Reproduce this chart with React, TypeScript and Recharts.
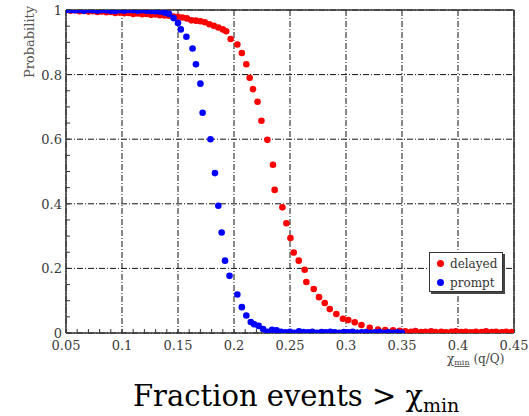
import React from 'react';
import { ScatterChart, Scatter, XAxis, YAxis, CartesianGrid } from 'recharts';

const promptX = [
  0.050, 0.054, 0.058, 0.062, 0.066, 0.070, 0.074, 0.078, 0.082, 0.086, 0.090, 0.094, 0.098,
  0.102, 0.106, 0.110, 0.114, 0.118, 0.122, 0.126, 0.130, 0.134, 0.138, 0.142, 0.146,
  0.150, 0.1525, 0.1575, 0.163, 0.166, 0.170, 0.172, 0.179, 0.183, 0.186, 0.189, 0.192, 0.196,
  0.203, 0.207, 0.211, 0.215, 0.218, 0.222, 0.226, 0.230,
  0.234, 0.238, 0.242, 0.246, 0.250, 0.254, 0.258, 0.262, 0.266, 0.270, 0.274, 0.278, 0.282,
  0.286, 0.290, 0.294, 0.298, 0.302, 0.306, 0.310, 0.314, 0.318, 0.322, 0.326, 0.330, 0.334,
  0.338, 0.342, 0.346, 0.350,
];
const promptY = [
  1.0, 1.0, 0.999, 1.0, 0.998, 1.0, 0.999, 0.998, 1.0, 0.999, 0.998, 0.997, 0.999,
  0.998, 1.0, 0.999, 0.998, 0.999, 0.998, 0.997, 0.996, 0.995, 0.992, 0.988, 0.975,
  0.960, 0.940, 0.917, 0.881, 0.832, 0.772, 0.682, 0.600, 0.495, 0.394, 0.311, 0.224, 0.177,
  0.119, 0.080, 0.054, 0.034, 0.027, 0.022, 0.012, 0.004,
  0.010, 0.008, 0.004, 0.002, 0.004, 0.001, 0.005, 0.003, 0.002, 0.004, 0.001, 0.003, 0.002,
  0.004, 0.002, 0.001, 0.003, 0.002, 0.004, 0.001, 0.002, 0.003, 0.001, 0.002, 0.003, 0.001,
  0.002, 0.001, 0.002, 0.001,
];

const delayedX = [
  0.050, 0.054, 0.058, 0.062, 0.066, 0.070, 0.074, 0.078, 0.082, 0.086, 0.090, 0.094, 0.098,
  0.102, 0.106, 0.110, 0.114, 0.118, 0.122, 0.126, 0.130, 0.134, 0.138, 0.142, 0.146,
  0.150, 0.154, 0.158, 0.162, 0.166, 0.170, 0.174, 0.178, 0.182, 0.186, 0.190, 0.193, 0.197,
  0.203, 0.207, 0.211, 0.214, 0.217, 0.221, 0.2245, 0.2298, 0.2348, 0.2363, 0.2432, 0.2468,
  0.2504, 0.2533, 0.2578, 0.2631, 0.2646, 0.2712, 0.2759, 0.281, 0.2855, 0.2914, 0.2973,
  0.302, 0.3078, 0.3138, 0.3212, 0.3286, 0.335, 0.342, 0.348,
  0.353, 0.358, 0.362, 0.367, 0.371, 0.376, 0.380, 0.385, 0.389, 0.394, 0.398, 0.403,
  0.407, 0.412, 0.416, 0.421, 0.425, 0.430, 0.434, 0.439, 0.443, 0.448,
];
const delayedY = [
  1.000, 0.998, 0.999, 0.996, 0.997, 0.995, 0.996, 0.994, 0.995, 0.993, 0.994, 0.991, 0.992,
  0.990, 0.991, 0.988, 0.989, 0.987, 0.988, 0.985, 0.986, 0.984, 0.983, 0.982, 0.980,
  0.979, 0.977, 0.974, 0.968, 0.967, 0.965, 0.962, 0.956, 0.951, 0.946, 0.940, 0.934, 0.910,
  0.893, 0.867, 0.832, 0.790, 0.755, 0.716, 0.657, 0.598, 0.521, 0.443, 0.389, 0.340,
  0.294, 0.249, 0.224, 0.196, 0.158, 0.136, 0.111, 0.093, 0.074, 0.059, 0.044,
  0.040, 0.033, 0.025, 0.016, 0.011, 0.009, 0.008, 0.007,
  0.005, 0.004, 0.006, 0.003, 0.004, 0.005, 0.003, 0.004, 0.002, 0.004, 0.005, 0.003,
  0.004, 0.002, 0.004, 0.003, 0.005, 0.003, 0.004, 0.002, 0.004, 0.003,
];

const xMajorTicks = [0.05, 0.1, 0.15, 0.2, 0.25, 0.3, 0.35, 0.4, 0.45];
const xMinorTicks = [
  0.05, 0.06, 0.07, 0.08, 0.09, 0.1, 0.11, 0.12, 0.13, 0.14, 0.15, 0.16, 0.17, 0.18, 0.19, 0.2,
  0.21, 0.22, 0.23, 0.24, 0.25, 0.26, 0.27, 0.28, 0.29, 0.3, 0.31, 0.32, 0.33, 0.34, 0.35,
  0.36, 0.37, 0.38, 0.39, 0.4, 0.41, 0.42, 0.43, 0.44, 0.45,
];
const yMajorTicks = [0, 0.2, 0.4, 0.6, 0.8, 1];
const yMinorTicks = [
  0, 0.05, 0.1, 0.15, 0.2, 0.25, 0.3, 0.35, 0.4, 0.45, 0.5, 0.55, 0.6, 0.65, 0.7, 0.75, 0.8,
  0.85, 0.9, 0.95, 1,
];
const xLabels = ['0.05', '0.1', '0.15', '0.2', '0.25', '0.3', '0.35', '0.4', '0.45'];
const yLabels = ['0', '0.2', '0.4', '0.6', '0.8', '1'];

const series = [
  { name: 'delayed', color: '#ff0000', xs: delayedX, ys: delayedY },
  { name: 'prompt', color: '#0000ff', xs: promptX, ys: promptY },
];

const SERIF = "'DejaVu Serif', serif";
const TICK_COLOR = '#3a3a3a';

const findLabel = (v: number, ticks: number[], labels: string[]) => {
  const i = ticks.findIndex((t) => Math.abs(t - v) < 1e-9);
  return i >= 0 ? labels[i] : null;
};

const XTick = (props: any) => {
  const { x, y, payload } = props;
  const label = findLabel(payload.value, xMajorTicks, xLabels);
  if (!label) return <g />;
  return (
    <text x={x} y={y + 9} textAnchor="middle" style={{ fontFamily: SERIF }} fontSize={13} fill={TICK_COLOR}>
      {label}
    </text>
  );
};

const YTick = (props: any) => {
  const { x, y, payload } = props;
  const label = findLabel(payload.value, yMajorTicks, yLabels);
  if (!label) return <g />;
  return (
    <text x={x} y={y + 5} textAnchor="end" style={{ fontFamily: SERIF }} fontSize={13} fill={TICK_COLOR}>
      {label}
    </text>
  );
};

const Dot = (props: any) => {
  const { cx, cy, fill } = props;
  return <circle cx={cx} cy={cy} r={3.3} fill={fill} />;
};

export default function App() {
  const data = series.map((s) => ({
    ...s,
    points: s.xs.map((x, i) => ({ x, y: s.ys[i] })),
  }));
  return (
    <div style={{ position: 'absolute', left: 0, top: 0, width: 529, height: 416, background: '#fff', fontFamily: SERIF }}>
      <ScatterChart width={529} height={416} margin={{ top: 9, right: 14, bottom: 53, left: 26 }}>
        <CartesianGrid
          verticalValues={xMajorTicks}
          horizontalValues={yMajorTicks}
          stroke="#111"
          strokeWidth={1}
          strokeDasharray="6 2 1 2"
        />
        <XAxis
          type="number"
          dataKey="x"
          domain={[0.05, 0.45]}
          ticks={xMinorTicks}
          interval={0}
          allowDataOverflow
          height={30}
          tickSize={-4}
          tickMargin={12}
          tick={<XTick />}
          axisLine={{ stroke: '#333', strokeWidth: 1.5 }}
          tickLine={{ stroke: '#333' }}
        />
        <XAxis
          xAxisId="top"
          orientation="top"
          type="number"
          domain={[0.05, 0.45]}
          ticks={xMinorTicks}
          interval={0}
          allowDataOverflow
          height={1}
          tickSize={-4}
          tick={false}
          axisLine={{ stroke: '#333', strokeWidth: 1.5 }}
          tickLine={{ stroke: '#333' }}
        />
        <YAxis
          type="number"
          dataKey="y"
          domain={[0, 1]}
          ticks={yMinorTicks}
          interval={0}
          allowDataOverflow
          width={40}
          tickSize={-4}
          tickMargin={8}
          tick={<YTick />}
          axisLine={{ stroke: '#333', strokeWidth: 1.5 }}
          tickLine={{ stroke: '#333' }}
        />
        <YAxis
          yAxisId="right"
          orientation="right"
          type="number"
          domain={[0, 1]}
          ticks={yMinorTicks}
          interval={0}
          allowDataOverflow
          width={1}
          tickSize={-4}
          tick={false}
          axisLine={{ stroke: '#333', strokeWidth: 1.5 }}
          tickLine={{ stroke: '#333' }}
        />
        {data.map((s) => (
          <Scatter
            key={s.name}
            name={s.name}
            data={s.points}
            fill={s.color}
            shape={<Dot />}
            isAnimationActive={false}
          />
        ))}
      </ScatterChart>

      <div
        style={{
          position: 'absolute',
          left: 429,
          top: 252,
          width: 74,
          height: 40,
          border: '1px solid #333',
          background: '#fff',
          boxShadow: '2px 2px 0 #444',
          fontFamily: SERIF,
          fontSize: 12,
          color: '#333',
          boxSizing: 'border-box',
          paddingLeft: 7,
          paddingTop: 1,
        }}
      >
        {series.map((s) => (
          <div key={s.name} style={{ display: 'flex', alignItems: 'center', height: 19 }}>
            <span
              style={{
                display: 'inline-block',
                width: 7,
                height: 7,
                borderRadius: '50%',
                background: s.color,
                marginRight: 6,
              }}
            />
            <span>{s.name}</span>
          </div>
        ))}
      </div>

      <svg
        width={529}
        height={416}
        style={{ position: 'absolute', left: 0, top: 0, pointerEvents: 'none', fontFamily: SERIF }}
      >
        <text
          transform="translate(34, 42) rotate(-90)"
          textAnchor="middle"
          fontSize={13}
          fill="#555"
        >
          Probability
        </text>
        <text x={447} y={363} fontSize={12} fill="#444">
          χ
          <tspan fontSize={8} dy={2} textDecoration="underline">min</tspan>
          <tspan dy={-2}> (q/Q)</tspan>
        </text>
        <text x={133} y={406} fontSize={29} fill="#000">
          Fraction events &gt; χ
          <tspan fontSize={19} dy={6}>min</tspan>
        </text>
      </svg>
    </div>
  );
}
